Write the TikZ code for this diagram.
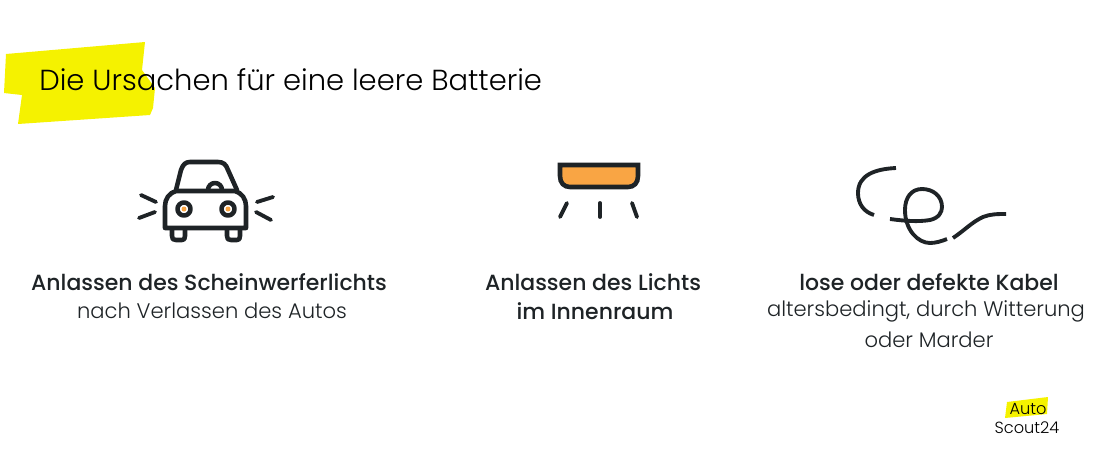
\documentclass[tikz,border=0pt]{standalone}
\usepackage{fontspec}
\setmainfont{Poppins}
\newfontfamily\lightfont{Poppins Light}
\newfontfamily\mediumfont{Poppins Medium}
\definecolor{marker}{HTML}{F5F200}
\definecolor{lamp}{HTML}{F9A544}
\definecolor{ink}{HTML}{1E2326}
\begin{document}
\begin{tikzpicture}[x=0.02cm,y=-0.02cm,
      title/.style={font=\lightfont\fontsize{16.5}{18}\selectfont, text=black, inner sep=0pt, anchor=base west},
      strong/.style={font=\mediumfont\fontsize{12.5}{14}\selectfont, text=ink, inner sep=0pt},
      plain/.style={font=\lightfont\fontsize{12}{14}\selectfont, text=ink, inner sep=0pt},
      logotext/.style={font=\lightfont\fontsize{9.2}{10}\selectfont, text=black, inner sep=0pt},
      icon/.style={draw=ink, line width=2.6pt, line cap=round, line join=round},
      thin/.style={draw=ink, line width=2.2pt, line cap=round, line join=round}]
      \useasboundingbox (0, 0) rectangle (1100, 457);
      \fill[marker] (6, 54) -- (145, 42) -- (142, 70) -- (155, 88) -- (153, 108) -- (150, 115) -- (18, 124) -- (22, 95) -- (4, 93) -- cycle;
      \fill[marker] (1007, 402) -- (1048, 397) -- (1047, 414) -- (1005, 418) -- cycle;
      \node[title](heading) at (39, 90){Die Ursachen für eine leere Batterie};
      \node[strong](carone) at (209, 282){Anlassen des Scheinwerferlichts};
      \node[plain](cartwo) at (212, 311){nach Verlassen des Autos};
      \node[strong](lampone) at (593, 282){Anlassen des Lichts};
      \node[strong](lamptwo) at (595, 311){im Innenraum};
      \node[strong](cableone) at (929, 282){lose oder defekte Kabel};
      \node[plain](cabletwo) at (926, 311){altersbedingt, durch Witterung};
      \node[plain](cablethree) at (929, 340){oder Marder};
      \node[logotext](logoone) at (1028, 409){Auto};
      \node[logotext](logotwo) at (1027, 428){Scout24};
      \draw[icon] (176, 190) -- (181, 170) .. controls (183, 164) and (186, 162) .. (190, 162) -- (218, 162) .. controls (223, 162) and (226, 164) .. (228, 170) -- (237, 190);
      \draw[icon] (176, 191) -- (235, 191) .. controls (242, 193) and (246, 199) .. (246, 206) -- (246, 228) -- (165, 228) -- (165, 206) .. controls (165, 199) and (169, 193) .. (176, 191);
      \draw[icon] (208, 190) arc[start angle=180, end angle=360, radius=7];
      \draw[icon] (172, 229) -- (172, 236) .. controls (172, 239) and (173, 240) .. (176, 240) -- (182, 240) .. controls (184, 240) and (185, 239) .. (185, 236) -- (185, 229);
      \draw[icon] (227, 229) -- (227, 236) .. controls (227, 239) and (228, 240) .. (231, 240) -- (237, 240) .. controls (239, 240) and (240, 239) .. (240, 236) -- (240, 229);
      \draw[icon, fill=white] (184, 209) circle[radius=6.5];
      \draw[icon, fill=white] (228, 209) circle[radius=6.5];
      \fill[lamp] (184, 209) circle[radius=2.5];
      \fill[lamp] (228, 209) circle[radius=2.5];
      \draw[thin] (141, 195) -- (156, 202);
      \draw[thin] (139, 218) -- (155, 212);
      \draw[thin] (257, 202) -- (273, 197);
      \draw[thin] (256, 212) -- (271, 220);
      \draw[icon, fill=lamp, line cap=butt, line join=miter] (560, 165) -- (638, 165) -- (638, 176) .. controls (638, 183) and (634, 187) .. (628, 187) -- (570, 187) .. controls (564, 187) and (560, 183) .. (560, 176) -- cycle;
      \draw[thin] (567, 203) -- (560, 217);
      \draw[thin] (600, 203) -- (600, 217);
      \draw[thin] (632, 203) -- (637, 217);
      \draw[thin, line cap=butt] (896, 168) .. controls (875, 169) and (858, 175) .. (858, 193) .. controls (858, 204) and (864, 212) .. (874, 215);
      \draw[thin, line cap=butt] (890, 219) .. controls (905, 221) and (918, 222) .. (930, 220) .. controls (939, 218) and (942, 212) .. (942, 207) .. controls (942, 196) and (933, 189) .. (922, 189) .. controls (911, 189) and (905, 198) .. (905, 210) .. controls (905, 230) and (918, 243) .. (930, 243) .. controls (936, 243) and (942, 241) .. (947, 239);
      \draw[thin, line cap=butt] (953, 238) .. controls (965, 230) and (972, 222) .. (983, 217) .. controls (990, 214) and (998, 214) .. (1006, 214);
    \end{tikzpicture}
\end{document}
